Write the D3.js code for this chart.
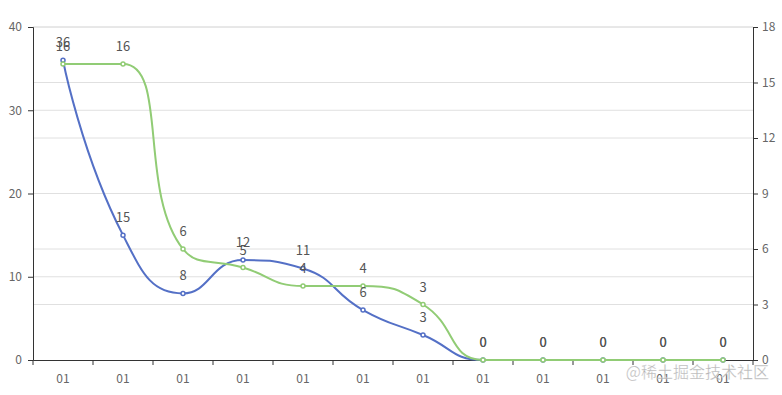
<!DOCTYPE html>
<html>
<head>
<meta charset="utf-8">
<script src="https://cdn.jsdelivr.net/npm/d3@7"></script>
<style>
  body { margin: 0; background: #fff; }
  svg { display: block; font-family: "Noto Sans CJK SC", "Noto Sans", sans-serif; }
</style>
</head>
<body>
<svg id="chart" width="782" height="395"></svg>
<script>
const categories = ["01","01","01","01","01","01","01","01","01","01","01","01"];
const leftValues = [36, 15, 8, 12, 11, 6, 3, 0, 0, 0, 0, 0];
const rightValues = [16, 16, 6, 5, 4, 4, 3, 0, 0, 0, 0, 0];
const leftTicks = [0, 10, 20, 30, 40];
const rightTicks = [0, 3, 6, 9, 12, 15, 18];

const W = 782, H = 395;
const m = {top: 27, right: 29, bottom: 35, left: 33};
const svg = d3.select('#chart');

const x = d3.scaleBand()
  .domain(d3.range(categories.length))
  .range([m.left, W - m.right]);
const yL = d3.scaleLinear().domain([0, 40]).range([H - m.bottom, m.top]);
const yR = d3.scaleLinear().domain([0, 18]).range([H - m.bottom, m.top]);
const cx = i => x(i) + x.bandwidth() / 2;

// split lines from both axes
svg.append('g').selectAll('line')
  .data(leftTicks.slice(1))
  .enter().append('line')
  .attr('x1', m.left).attr('x2', W - m.right)
  .attr('y1', d => yL(d)).attr('y2', d => yL(d))
  .attr('stroke', '#e0e0e0');
svg.append('g').selectAll('line')
  .data(rightTicks.slice(1))
  .enter().append('line')
  .attr('x1', m.left).attr('x2', W - m.right)
  .attr('y1', d => yR(d)).attr('y2', d => yR(d))
  .attr('stroke', '#e0e0e0');

// axes
const gl = svg.append('g')
  .attr('transform', `translate(${m.left},0)`)
  .call(d3.axisLeft(yL).tickValues(leftTicks).tickSize(5).tickPadding(6));
const gr = svg.append('g')
  .attr('transform', `translate(${W - m.right},0)`)
  .call(d3.axisRight(yR).tickValues(rightTicks).tickSize(5).tickPadding(4));
const gx = svg.append('g')
  .attr('transform', `translate(0,${H - m.bottom})`)
  .call(d3.axisBottom(x).tickFormat(i => categories[i]).tickSize(0).tickPadding(14));

[gl, gr, gx].forEach(g => {
  g.select('.domain').attr('stroke', '#333');
  g.selectAll('.tick line').attr('stroke', '#333');
  g.selectAll('.tick text').attr('fill', '#666').style('font-size', '12px')
    .style('font-family', '"Noto Sans CJK SC", "Noto Sans", sans-serif');
});

// category boundary ticks
svg.append('g').selectAll('line')
  .data(d3.range(categories.length + 1))
  .enter().append('line')
  .attr('x1', i => m.left + i * x.bandwidth())
  .attr('x2', i => m.left + i * x.bandwidth())
  .attr('y1', H - m.bottom).attr('y2', H - m.bottom + 5)
  .attr('stroke', '#333');

// echarts-style smooth line (smooth = 0.5, control points clamped)
function smoothPath(pts, smooth) {
  const p = d3.path();
  let cpx0 = pts[0][0], cpy0 = pts[0][1];
  p.moveTo(pts[0][0], pts[0][1]);
  for (let k = 1; k < pts.length; k++) {
    const [px, py] = pts[k - 1];
    const [xx, yy] = pts[k];
    let cpx1 = xx, cpy1 = yy, ncx = xx, ncy = yy;
    if (k + 1 < pts.length) {
      const [nx, ny] = pts[k + 1];
      let vx = nx - px, vy = ny - py;
      const l0 = Math.hypot(xx - px, yy - py);
      const l1 = Math.hypot(nx - xx, ny - yy);
      const r = l1 / (l0 + l1);
      ncx = xx + vx * smooth * r;
      ncy = yy + vy * smooth * r;
      ncx = Math.max(Math.min(ncx, Math.max(nx, xx)), Math.min(nx, xx));
      ncy = Math.max(Math.min(ncy, Math.max(ny, yy)), Math.min(ny, yy));
      vx = ncx - xx; vy = ncy - yy;
      cpx1 = xx - vx * l0 / l1;
      cpy1 = yy - vy * l0 / l1;
      cpx1 = Math.max(Math.min(cpx1, Math.max(px, xx)), Math.min(px, xx));
      cpy1 = Math.max(Math.min(cpy1, Math.max(py, yy)), Math.min(py, yy));
      vx = xx - cpx1; vy = yy - cpy1;
      ncx = xx + vx * l1 / l0;
      ncy = yy + vy * l1 / l0;
    }
    p.bezierCurveTo(cpx0, cpy0, cpx1, cpy1, xx, yy);
    cpx0 = ncx; cpy0 = ncy;
  }
  return p.toString();
}

function series(values, y, color) {
  const pts = values.map((d, i) => [cx(i), y(d)]);
  svg.append('path')
    .attr('d', smoothPath(pts, 0.5))
    .attr('fill', 'none')
    .attr('stroke', color)
    .attr('stroke-width', 2);
  svg.append('g').selectAll('circle')
    .data(values)
    .enter().append('circle')
    .attr('cx', (d, i) => cx(i))
    .attr('cy', d => y(d))
    .attr('r', 2)
    .attr('fill', '#fff')
    .attr('stroke', color)
    .attr('stroke-width', 1.5);
}

function labels(values, y) {
  svg.append('g').selectAll('text')
    .data(values)
    .enter().append('text')
    .attr('x', (d, i) => cx(i))
    .attr('y', d => y(d) - 13)
    .attr('text-anchor', 'middle')
    .attr('fill', '#555')
    .style('font-size', '13px')
    .text(d => d);
}

series(leftValues, yL, '#5470c6');
series(rightValues, yR, '#91cc75');
labels(leftValues, yL);
labels(rightValues, yR);

// watermark
svg.append('text')
  .attr('x', 769).attr('y', 378)
  .attr('text-anchor', 'end')
  .attr('fill', 'rgba(140,140,140,0.7)')
  .attr('stroke', 'rgba(255,255,255,0.6)')
  .attr('stroke-width', 0.6)
  .style('font-size', '16px')
  .text('@稀土掘金技术社区');
</script>
</body>
</html>
